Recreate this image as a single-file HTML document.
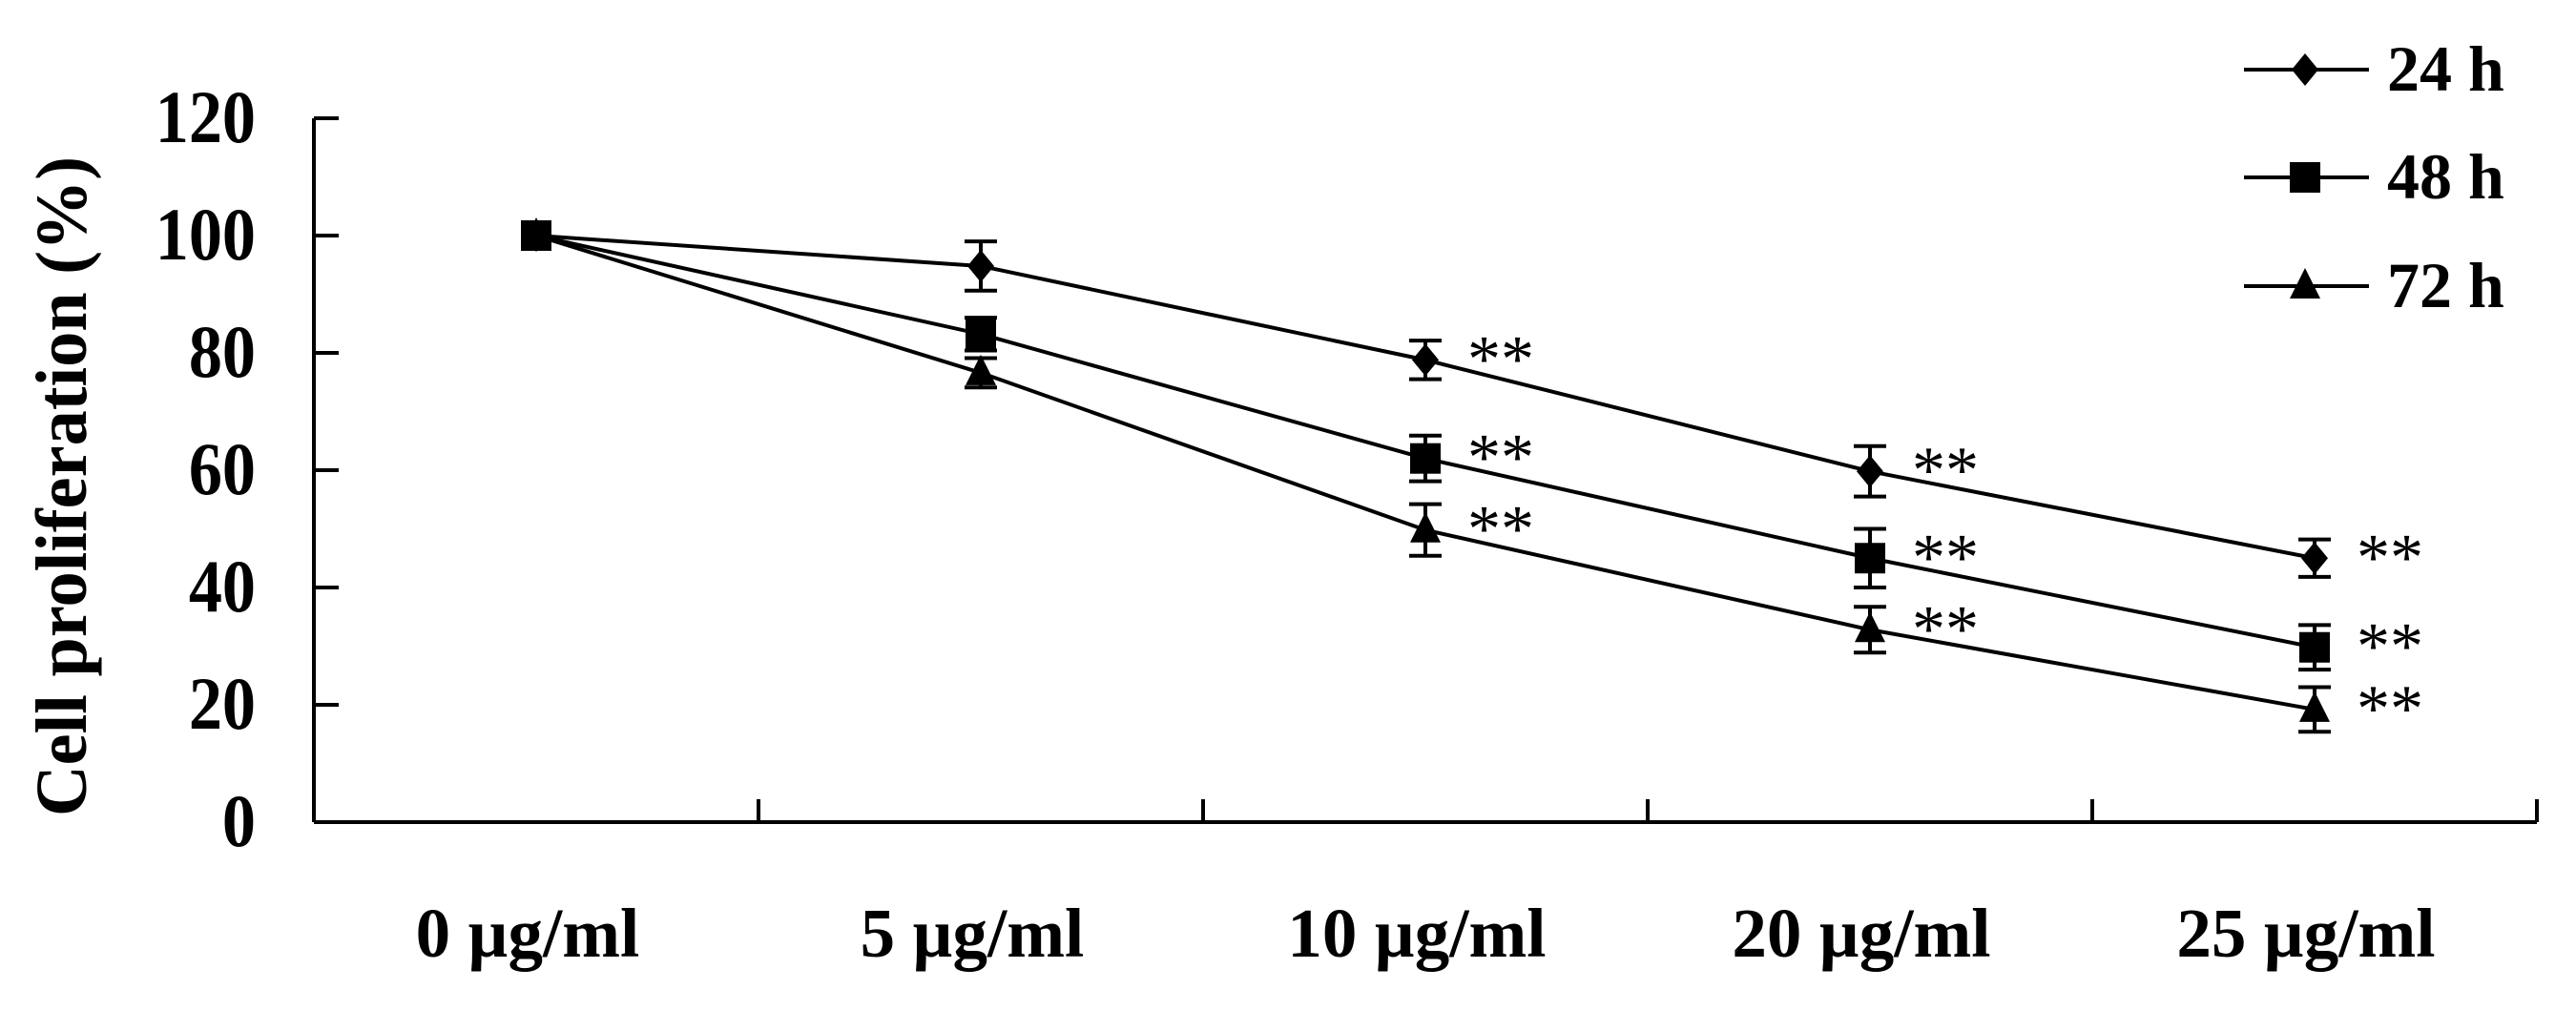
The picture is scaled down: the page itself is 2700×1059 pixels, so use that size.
<!DOCTYPE html>
<html><head><meta charset="utf-8"><style>
html,body{margin:0;padding:0;background:#fff;}
svg{display:block;}
text{font-family:"Liberation Serif",serif;fill:#000;}
</style></head><body>
<svg id="chart" width="2700" height="1059" viewBox="0 0 2700 1059" xmlns="http://www.w3.org/2000/svg">
<g id="axes"></g>
<g id="series"></g>
<g id="legend"></g>
</svg>
<script>
const categories = ["0 µg/ml","5 µg/ml","10 µg/ml","20 µg/ml","25 µg/ml"];
const yTicks = [0,20,40,60,80,100,120];
const seriesNames = ["24 h","48 h","72 h"];
const s24 = [100,94.8,78.8,59.8,45];
const s48 = [100,83.2,62,45,29.8];
const s72 = [100,76.6,49.8,32.8,19.2];
const e24 = [0,4.2,3.3,4.3,3.2];
const e48 = [0,2.8,3.9,5,3.8];
const e72 = [0,2.5,4.4,3.9,3.8];
const sig24 = [false,false,true,true,true];
const sig48 = [false,false,true,true,true];
const sig72 = [false,false,true,true,true];

const NS="http://www.w3.org/2000/svg";
const X0=329, band=466, Y0=862, pxPerUnit=6.15;
const xPos=i=>X0+band*(i+0.5);
const yPos=v=>Y0-v*pxPerUnit;
function mk(tag,attrs,parent){const e=document.createElementNS(NS,tag);for(const k in attrs)e.setAttribute(k,attrs[k]);parent.appendChild(e);return e;}
const axes=document.getElementById('axes');
const ser=document.getElementById('series');
const leg=document.getElementById('legend');

let el;
el=mk('line',{x1:X0,y1:yPos(120),x2:X0,y2:Y0,stroke:'#000','stroke-width':4},axes);


el=mk('line',{x1:X0,y1:Y0,x2:X0+band*categories.length,y2:Y0,stroke:'#000','stroke-width':4},axes);


yTicks.forEach(v=>{
  const t=mk('line',{x1:X0,y1:yPos(v),x2:X0+26,y2:yPos(v),stroke:'#000','stroke-width':4},axes);
  
  
  const l=mk('text',{x:0,y:0,transform:`translate(268,${yPos(v)+25}) scale(0.9,1)`,'text-anchor':'end','font-size':78,'font-weight':'bold'},axes);
  l.textContent=v;
  
  
});
for(let i=1;i<=categories.length;i++){
  const t=mk('line',{x1:X0+band*i,y1:Y0,x2:X0+band*i,y2:Y0-24,stroke:'#000','stroke-width':4},axes);
  
  
}
categories.forEach((c,i)=>{
  const l=mk('text',{x:xPos(i)-9,y:1003,'text-anchor':'middle','font-size':73,'font-weight':'bold'},axes);
  l.textContent=c;
  
  
});
el=mk('text',{x:0,y:0,transform:'translate(90,510) rotate(-90)','text-anchor':'middle','font-size':76,'font-weight':'bold',textLength:692,lengthAdjust:'spacingAndGlyphs'},axes);
el.textContent='Cell proliferation (%)';



function marker(type,cx,cy,parent){
  let m;
  if(type===0) m=mk('polygon',{points:`${cx},${cy-17} ${cx+14},${cy} ${cx},${cy+17} ${cx-14},${cy}`,fill:'#000'},parent);
  else if(type===1) m=mk('rect',{x:cx-16,y:cy-16,width:32,height:32,fill:'#000'},parent);
  else m=mk('polygon',{points:`${cx},${cy-19} ${cx+16},${cy+13} ${cx-16},${cy+13}`,fill:'#000'},parent);
  return m;
}
const allS=[s24,s48,s72], allE=[e24,e48,e72], allSig=[sig24,sig48,sig72];
allS.forEach((s,k)=>{
  const pts=s.map((v,i)=>xPos(i)+','+yPos(v)).join(' ');
  const pl=mk('polyline',{points:pts,fill:'none',stroke:'#000','stroke-width':4},ser);
  
  
  s.forEach((v,i)=>{
    const e=allE[k][i];
    if(e>0){
      const g=mk('path',{d:`M${xPos(i)},${yPos(v+e)}V${yPos(v-e)}M${xPos(i)-17},${yPos(v+e)}H${xPos(i)+17}M${xPos(i)-17},${yPos(v-e)}H${xPos(i)+17}`,stroke:'#000','stroke-width':4,fill:'none'},ser);
      
      
    }
    const m=marker(k,xPos(i),yPos(v),ser);
    
    
    if(allSig[k][i]){
      const a=mk('text',{x:xPos(i)+44,y:yPos(v)+22,'font-size':70},ser);
      a.textContent='**';
      
      
    }
  });
});
const legY=[73,186,300];
seriesNames.forEach((n,k)=>{
  const g=mk('g',{},leg);
  
  
  mk('line',{x1:2352,y1:legY[k],x2:2483,y2:legY[k],stroke:'#000','stroke-width':4},g);
  marker(k,2416,legY[k],g);
  const t=mk('text',{x:2502,y:legY[k]+22,'font-size':68,'font-weight':'bold'},g);
  t.textContent=n;
});
</script>
</body></html>
